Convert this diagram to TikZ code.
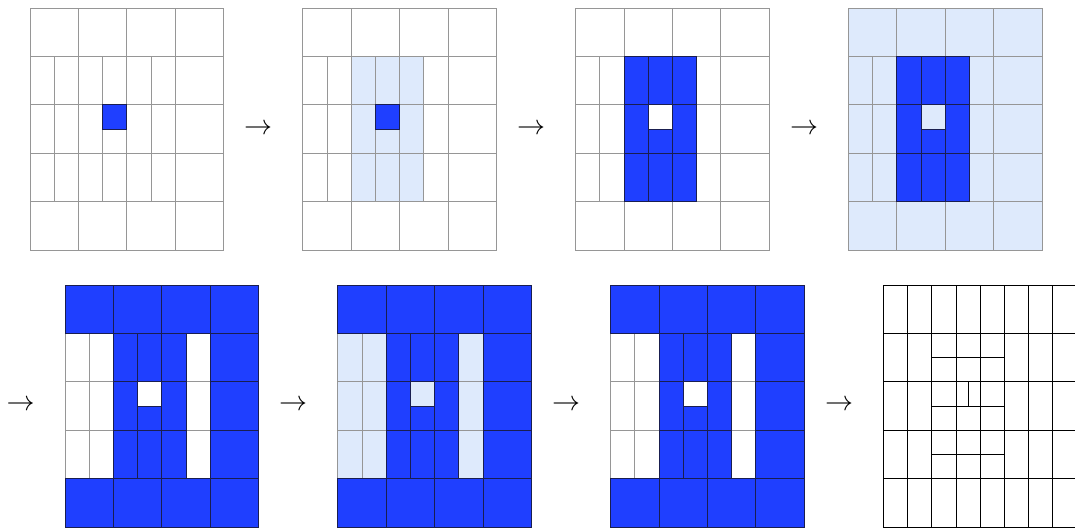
\documentclass[tikz,border=0pt]{standalone}
\usepackage{tikz}
\definecolor{MeshBlue}{RGB}{31,63,255}
\definecolor{PaleBlue}{RGB}{222,234,252}
\definecolor{GridGray}{RGB}{150,150,150}
\definecolor{DeepNavy}{RGB}{25,30,80}
\tikzset{
  w/.style={fill=white, draw=GridGray},
  l/.style={fill=PaleBlue, draw=GridGray},
  b/.style={fill=MeshBlue, draw=DeepNavy},
  we/.style={}, le/.style={}, be/.style={draw=DeepNavy},
  arrowsym/.style={scale=2.8, inner sep=0pt},
  fine/.style={draw=black, line width=0.7pt}
}
% cells of one mesh; #1 empty = fills, #1 = e = dark edges of blue cells
\newcommand{\cellset}[1]{%
  \foreach \c in {0,...,3} {
    \path[gA#1] (\c,0) rectangle +(1,1);
    \path[gA#1] (\c,4) rectangle +(1,1);
  }
  \foreach \r in {1,2,3} {
    \path[gA#1] (3,\r) rectangle +(1,1);
    \foreach \s in {0,0.5,2.5} \path[gB#1] (\s,\r) rectangle +(0.5,1);
    \foreach \s in {1,1.5,2} \path[gC#1] (\s,\r) rectangle +(0.5,1);
  }
  \path[gC#1] (1.5,2.5) rectangle +(0.5,0.5);
  \path[gD#1] (1.5,2) rectangle +(0.5,0.5);
}
% #1,#2 top left corner; #3 outer cells, #4 side strips, #5 inner block, #6 centre cell
\newcommand{\panel}[6]{%
  \begin{scope}[shift={(#1,#2)}, x=48.4pt, y=-48.4pt, line width=0.7pt,
    gA/.style={#3}, gB/.style={#4}, gC/.style={#5}, gD/.style={#6},
    gAe/.style={#3e}, gBe/.style={#4e}, gCe/.style={#5e}, gDe/.style={#6e}]
    \cellset{}
    \cellset{e}
  \end{scope}}

\begin{document}
\begin{tikzpicture}[x=1pt, y=-1pt]
  \useasboundingbox (0,0) rectangle (1075,527);
  % top row
  \panel{30}{8}{w}{w}{w}{b}
  \panel{302.8}{8}{w}{w}{l}{b}
  \panel{575.6}{8}{w}{w}{b}{w}
  \panel{848.4}{8}{l}{l}{b}{l}
  % bottom row
  \panel{65}{285}{b}{w}{b}{w}
  \panel{337.8}{285}{b}{l}{b}{l}
  \panel{610.6}{285}{b}{w}{b}{w}
  % refined mesh
  \begin{scope}[shift={(883.4,285)}, x=48.4pt, y=-48.4pt]
    \foreach \s in {0,0.5,...,3.5}
      \foreach \r in {0,...,4} \draw[fine] (\s,\r) rectangle +(0.5,1);
    \foreach \r in {1.5,2.5,3.5} \draw[fine] (1,\r) -- (2.5,\r);
    \draw[fine] (1.75,2) -- (1.75,2.5);
  \end{scope}
  % arrows
  \foreach \i/\x/\y in {1/258/129, 2/531/129, 3/804/129,
      4/20.5/405.5, 5/293/405.5, 6/566/405.5, 7/839/405.5}
    \node[arrowsym] (arr\i) at (\x,\y) {$\rightarrow$};
\end{tikzpicture}
\end{document}
